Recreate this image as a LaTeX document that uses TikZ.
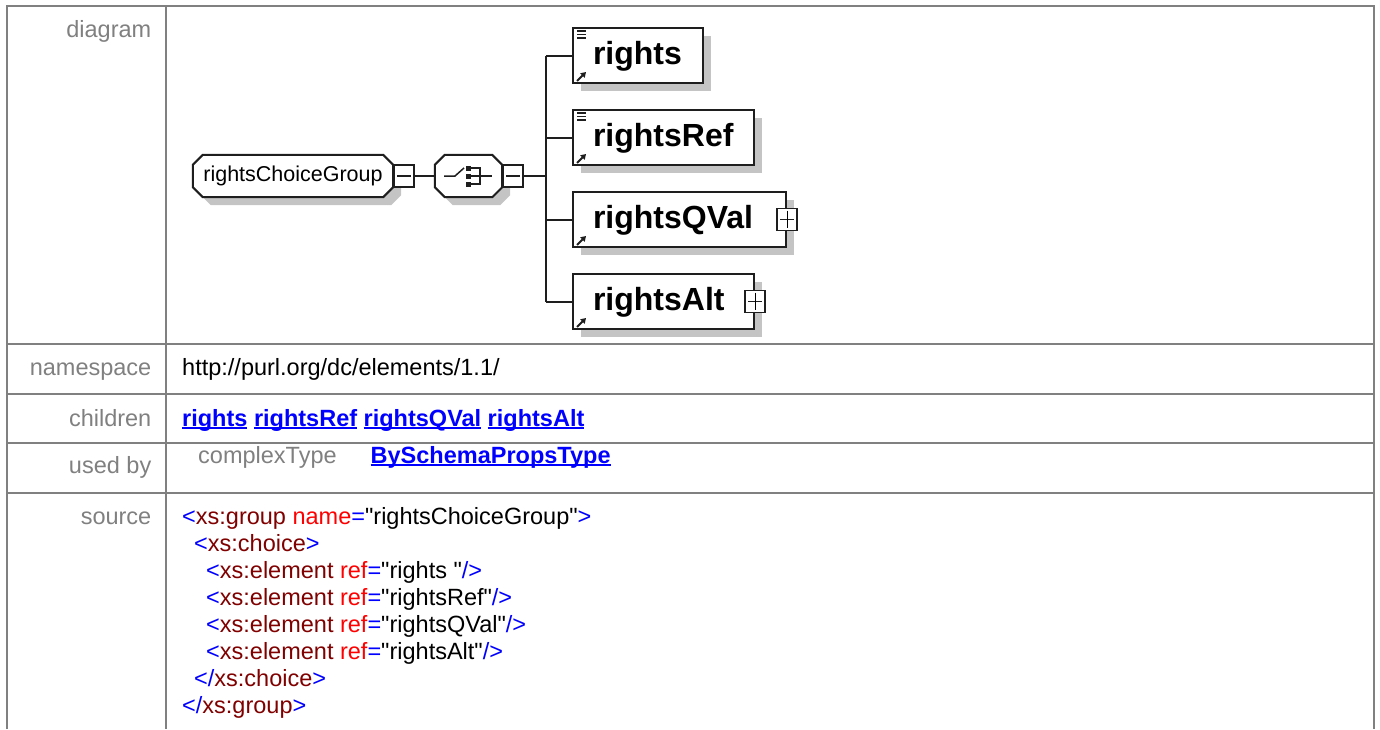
\documentclass[tikz,border=0pt]{standalone}
\usepackage{fontspec}
\setmainfont{Liberation Sans}
\newfontfamily\plainsans{Liberation Sans}
\usetikzlibrary{positioning,shadows,arrows.meta,backgrounds}

\definecolor{rulegray}{HTML}{808080}
\definecolor{labelgray}{HTML}{808080}
\definecolor{linkblue}{HTML}{0000FF}
\definecolor{tagred}{HTML}{800000}
\definecolor{attred}{HTML}{FF0000}
\definecolor{shadowgray}{HTML}{C4C4C4}
\definecolor{edge}{HTML}{1E1E1E}

\newcommand{\srcfont}{\fontsize{23.5}{27}\selectfont}
\newcommand{\qt}{{\plainsans"}}
\newcommand{\lnk}[1]{\setbox0\hbox{#1}\rlap{\rule[-2.8pt]{\wd0}{1.7pt}}\box0\relax}
\newcommand{\xopen}[1]{\textcolor{linkblue}{<}\textcolor{tagred}{#1}}
\newcommand{\xclose}[1]{\textcolor{linkblue}{</}\textcolor{tagred}{#1}\textcolor{linkblue}{>}}
\newcommand{\xatt}[2]{\textcolor{attred}{#1}\textcolor{linkblue}{=}\qt#2\qt}
\newcommand{\xgt}{\textcolor{linkblue}{>}}
\newcommand{\xend}{\textcolor{linkblue}{/>}}
\newcommand{\octapath}[1]{([xshift=10pt]#1.north west) -- ([xshift=-10pt]#1.north east)
  -- ([yshift=-10pt]#1.north east) -- ([yshift=10pt]#1.south east)
  -- ([xshift=-10pt]#1.south east) -- ([xshift=10pt]#1.south west)
  -- ([yshift=10pt]#1.south west) -- ([yshift=-10pt]#1.north west) -- cycle}

\tikzset{
  grid/.style={draw=rulegray, line width=2pt},
  lbl/.style={anchor=base east, inner sep=0pt, text=labelgray, font=\srcfont},
  val/.style={anchor=base west, inner sep=0pt, font=\srcfont},
  href/.style={val, text=linkblue, font=\srcfont\bfseries},
  octa/.style={rectangle, minimum height=42pt, inner sep=0pt, font=\fontsize{21.5}{24}\selectfont},
  elem/.style={draw=edge, line width=2pt, fill=white,
    drop shadow={shadow xshift=8pt, shadow yshift=-8pt, fill=shadowgray, opacity=1},
    text width=#1, text height=23pt, text depth=6pt, minimum height=55pt,
    inner xsep=20pt, inner ysep=0pt, align=left, font=\fontsize{32}{36}\selectfont\bfseries},
  minus/.style={draw=edge, line width=1.6pt, fill=white, minimum width=20pt,
    minimum height=22pt, inner sep=0pt,
    path picture={\draw[edge, line width=1.6pt]
      ([xshift=3pt]path picture bounding box.west) -- ([xshift=-3pt]path picture bounding box.east);}},
  plus/.style={minus, append after command={
    [draw=edge, line width=1.6pt] ([yshift=-3pt]\tikzlastnode.north) edge ([yshift=3pt]\tikzlastnode.south)}},
  wire/.style={draw=edge, line width=2pt},
}

\begin{document}
\begin{tikzpicture}[x=1pt, y=-1pt]
\useasboundingbox (0,0) rectangle (1380,729);

\draw[grid] (7,729) -- (7,6) -- (1374,6) -- (1374,729);
\draw[grid] (166,6) -- (166,729);
\foreach \y in {344,394,443,493} \draw[grid] (7,\y) -- (1374,\y);

\node[lbl] (lDiagram) at (151.5,37) {diagram};
\node[lbl] (lNamespace) at (151.5,375.5) {namespace};
\node[lbl] (lChildren) at (151.5,426) {children};
\node[lbl] (lUsedBy) at (151.5,473) {used by};
\node[lbl] (lSource) at (151.5,524) {source};

\node[val] (namespace) at (182,375.5) {http://purl.org/dc/elements/1.1/};
\node[href] (children) at (182,426) {\lnk{rights} \lnk{rightsRef} \lnk{rightsQVal} \lnk{rightsAlt}};
\node[val, text=labelgray] (usedKind) at (198,463) {complexType};
\node[href] (usedName) at (370.5,463) {\lnk{BySchemaPropsType}};

\node[val] (src1) at (182,524) {\xopen{xs:group} \xatt{name}{rightsChoiceGroup}\xgt};
\node[val] (src2) at (194,551) {\xopen{xs:choice}\xgt};
\foreach \r [count=\i from 3] in {rights , rightsRef, rightsQVal, rightsAlt}
  \node[val] (src\i) at (206,497+27*\i) {\xopen{xs:element} \xatt{ref}{\r}\xend};
\node[val] (src7) at (194,686) {\xclose{xs:choice}};
\node[val] (src8) at (182,713) {\xclose{xs:group}};

% diagram
\node[octa, minimum width=200pt] (group) at (293,176) {rightsChoiceGroup};
\node[minus, right=0pt of group] (groupMinus) {};
\node[octa, minimum width=67pt, right=20pt of groupMinus] (choice) {};
\node[minus, right=0pt of choice] (choiceMinus) {};
\coordinate[right=22pt of choiceMinus] (hub);

\begin{scope}[on background layer]
\foreach \o in {group, choice} {
  \fill[shadowgray, transform canvas={shift={(8pt,-8pt)}}] \octapath{\o};
  \draw[edge, line width=2pt, fill=white] \octapath{\o};
}
\end{scope}

\begin{scope}[shift={(choice.center)}, line width=1.5pt, edge]
\draw (-24.5,0) -- (-13.5,0) -- (-4.5,-8);
\foreach \s in {-8,0,8} \fill (-2.5,\s-2.5) rectangle (2.5,\s+2.5);
\draw (2.5,-8) -- (11.5,-8) -- (11.5,8) -- (2.5,8);
\draw (2.5,0) -- (23.5,0);
\end{scope}

\node[elem=90pt, anchor=west] (rights) at (572,55.5) {rights};
\node[elem=141pt, below=25pt of rights.south west, anchor=north west] (rightsRef) {rightsRef};
\node[elem=173pt, below=25pt of rightsRef.south west, anchor=north west] (rightsQVal) {rightsQVal};
\node[elem=141pt, below=25pt of rightsQVal.south west, anchor=north west] (rightsAlt) {rightsAlt};
\node[plus] (qvalPlus) at (rightsQVal.east) {};
\node[plus] (altPlus) at (rightsAlt.east) {};

\draw[wire] (groupMinus) -- (choice);
\draw[wire] (choiceMinus) -- (hub);
\draw[wire] (hub |- rights.west) -- (hub |- rightsAlt.west);
\foreach \e in {rights, rightsRef, rightsQVal, rightsAlt} {
  \draw[wire] (hub |- \e.west) -- (\e.west);
  \draw[edge, line width=2pt, -{Triangle[length=5pt, width=6pt]}]
    ([shift={(5,-3)}]\e.south west) -- ++(9,-9);
}
\foreach \e in {rights, rightsRef}
  \foreach \d in {4,7.5,11}
    \draw[edge, line width=1.4pt] ([shift={(5,\d)}]\e.north west) -- ++(9,0);
\end{tikzpicture}
\end{document}
